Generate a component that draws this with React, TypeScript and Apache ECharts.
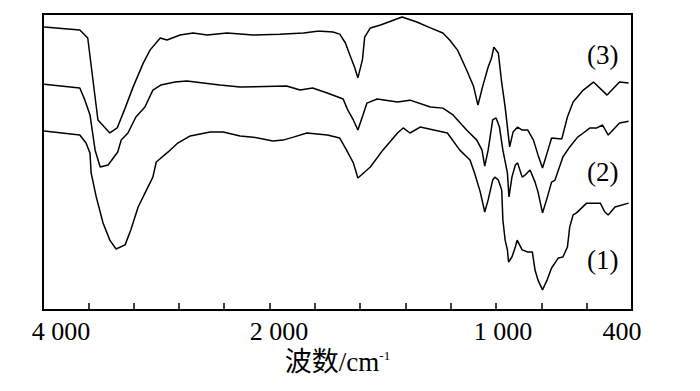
import React, { useEffect, useRef } from "react";
import * as echarts from "echarts";

// Wavenumbers (cm^-1) and transmittance (arbitrary %)
const wn3 = [3990, 3675, 3605, 3515, 3410, 3345, 3275, 3205, 3115, 3055, 2965, 2905, 2790, 2675, 2550, 2375, 2145, 1955, 1850, 1790, 1770, 1720, 1690, 1665, 1645, 1625, 1610, 1590, 1580, 1555, 1510, 1415, 1350, 1290, 1235, 1205, 1170, 1130, 1100, 1080, 1060, 1035, 1020, 1010, 990, 975, 960, 945, 940, 925, 905, 885, 860, 835, 815, 795, 775, 755, 710, 685, 660, 615, 570, 510, 455, 415];
const tr3 = [95.6, 94.6, 91.9, 64.2, 59.8, 61.5, 68.2, 75.3, 83.4, 87.8, 91.9, 91.2, 92.9, 93.6, 92.9, 93.6, 92.9, 93.2, 93.6, 94.2, 94.2, 93.9, 93.2, 90.2, 86.1, 82.1, 78.4, 84.5, 92.2, 95.3, 96.3, 99.0, 97.3, 95.3, 93.6, 91.2, 87.8, 81.1, 75.7, 69.2, 75.3, 82.1, 85.1, 88.8, 86.8, 76.7, 68.6, 58.4, 55.1, 60.1, 61.8, 60.8, 60.8, 57.4, 52.4, 48.0, 53.0, 58.1, 57.8, 65.2, 70.3, 74.3, 77.0, 72.6, 77.0, 76.7];

const wn2 = [3990, 3675, 3630, 3585, 3540, 3495, 3425, 3340, 3310, 3250, 3180, 3100, 3030, 2960, 2835, 2730, 2440, 2260, 1925, 1865, 1810, 1745, 1675, 1655, 1630, 1610, 1585, 1570, 1525, 1435, 1380, 1290, 1235, 1190, 1130, 1085, 1062, 1050, 1035, 1015, 1000, 985, 970, 950, 943, 930, 915, 905, 885, 872, 850, 828, 815, 795, 775, 755, 740, 705, 675, 640, 615, 585, 555, 530, 505, 455, 415];
const tr2 = [76.3, 75.0, 70.9, 65.9, 54.0, 48.3, 49.0, 53.4, 57.4, 59.8, 65.2, 68.6, 74.3, 76.0, 77.0, 77.4, 76.0, 75.3, 75.7, 74.3, 75.0, 73.3, 71.3, 67.6, 64.2, 60.8, 66.5, 69.9, 71.3, 70.3, 70.9, 68.6, 68.2, 65.9, 60.8, 57.4, 54.0, 48.6, 54.0, 64.2, 64.9, 61.8, 54.0, 46.3, 38.2, 44.9, 49.0, 49.7, 44.9, 45.6, 47.3, 43.2, 39.9, 32.8, 37.8, 43.2, 43.9, 51.7, 55.1, 58.4, 59.8, 61.5, 61.5, 62.5, 59.1, 63.2, 63.8];

const wn1 = [3990, 3675, 3620, 3585, 3575, 3530, 3470, 3410, 3355, 3275, 3225, 3160, 3100, 3030, 3000, 2895, 2810, 2700, 2525, 2410, 2260, 2145, 1985, 1940, 1895, 1835, 1745, 1690, 1660, 1630, 1610, 1555, 1500, 1435, 1410, 1380, 1335, 1290, 1215, 1160, 1115, 1095, 1070, 1050, 1035, 1015, 1005, 990, 975, 970, 960, 950, 945, 930, 915, 907, 885, 860, 840, 828, 815, 795, 775, 755, 725, 705, 685, 675, 660, 645, 600, 540, 520, 505, 475, 415];
const tr1 = [60.5, 59.1, 56.4, 53.0, 46.3, 38.2, 29.4, 23.6, 20.6, 22.0, 27.0, 34.8, 39.5, 44.9, 50.0, 53.4, 56.4, 58.8, 60.1, 60.1, 58.8, 58.4, 57.1, 57.4, 58.4, 59.8, 59.1, 58.1, 54.0, 49.7, 44.6, 48.3, 54.0, 59.8, 61.5, 59.8, 61.8, 61.1, 59.8, 54.0, 50.7, 46.3, 39.9, 33.1, 37.2, 43.9, 44.9, 43.9, 40.5, 30.4, 23.6, 20.3, 16.2, 17.9, 21.3, 23.6, 20.3, 19.6, 19.6, 13.5, 10.1, 6.8, 10.1, 14.2, 17.6, 17.9, 21.3, 28.0, 32.1, 32.8, 36.1, 36.1, 33.1, 32.1, 34.8, 36.1];

const tickWavenumbers = [4000, 2000, 1000, 400];
const tickLabels = ["4 000", "2 000", "1 000", "400"];
const curveNames = ["(1)", "(2)", "(3)"];

// IR scale change at 2000 cm^-1: 400 per division above, 200 per division below
function toT(w: number): number {
  return w >= 2000 ? (4000 - w) / 400 : 5 + (2000 - w) / 200;
}

const SERIF = '"Liberation Serif", "Times New Roman", "Noto Sans CJK SC", serif';

export default function App() {
  const ref = useRef<HTMLDivElement>(null);
  useEffect(() => {
    if (!ref.current) return;
    const chart = echarts.init(ref.current, undefined, { renderer: "svg" });
    const mk = (wn: number[], tr: number[]) => wn.map((w, i) => [toT(w), tr[i]]);
    const labelT = tickWavenumbers.map(toT);
    const richKeys = ["l0", "l1", "l2", "l3"];
    const option: any = {
      animation: false,
      grid: {
        left: 43,
        top: 14,
        width: 589,
        height: 296,
        show: true,
        borderColor: "#000",
        borderWidth: 2,
        backgroundColor: "transparent",
      },
      xAxis: {
        type: "value",
        min: 0,
        max: 13,
        interval: 1,
        axisLine: { show: true, lineStyle: { color: "#000", width: 2 } },
        axisTick: { show: true, inside: true, length: 7, lineStyle: { color: "#000", width: 1.5 } },
        splitLine: { show: false },
        axisLabel: {
          show: true,
          margin: 8,
          customValues: labelT,
          color: "#000",
          fontSize: 26,
          fontFamily: SERIF,
          formatter: (v: number) => {
            const idx = labelT.findIndex((t) => Math.abs(t - v) < 1e-6);
            if (idx < 0) return "";
            return "{" + richKeys[idx] + "|" + tickLabels[idx] + "}";
          },
          rich: {
            l0: { fontSize: 26, fontFamily: SERIF, color: "#000", padding: [0, 0, 0, 36] },
            l1: { fontSize: 26, fontFamily: SERIF, color: "#000", padding: [0, 0, 0, 19] },
            l2: { fontSize: 26, fontFamily: SERIF, color: "#000", padding: [0, 0, 0, 14] },
            l3: { fontSize: 26, fontFamily: SERIF, color: "#000", padding: [0, 20, 0, 0] },
          },
        },
        name: "{a|波数/cm}{b|-1}",
        nameLocation: "middle",
        nameGap: 37,
        nameTextStyle: {
          rich: {
            a: { fontSize: 27, fontFamily: SERIF, color: "#000" },
            b: { fontSize: 13, fontFamily: SERIF, color: "#000", verticalAlign: "top", padding: [0, 0, 10, 0] },
          },
        },
      },
      yAxis: {
        type: "value",
        min: 0,
        max: 100,
        axisLine: { show: false },
        axisTick: { show: false },
        axisLabel: { show: false },
        splitLine: { show: false },
      },
      series: [
        { name: curveNames[0], type: "line", data: mk(wn1, tr1) },
        { name: curveNames[1], type: "line", data: mk(wn2, tr2) },
        { name: curveNames[2], type: "line", data: mk(wn3, tr3) },
      ].map((s) => ({
        ...s,
        showSymbol: false,
        symbol: "none",
        smooth: false,
        lineStyle: { color: "#000", width: 1.5 },
      })),
      graphic: [
        { type: "text", left: 587, top: 41, style: { text: curveNames[2], fontSize: 27, fontFamily: SERIF, fill: "#000" } },
        { type: "text", left: 587, top: 158, style: { text: curveNames[1], fontSize: 27, fontFamily: SERIF, fill: "#000" } },
        { type: "text", left: 587, top: 246, style: { text: curveNames[0], fontSize: 27, fontFamily: SERIF, fill: "#000" } },
      ],
    };
    chart.setOption(option);
    return () => chart.dispose();
  }, []);
  return (
    <div
      ref={ref}
      style={{ position: "fixed", left: 0, top: 0, width: 700, height: 391, background: "#fff" }}
    />
  );
}
